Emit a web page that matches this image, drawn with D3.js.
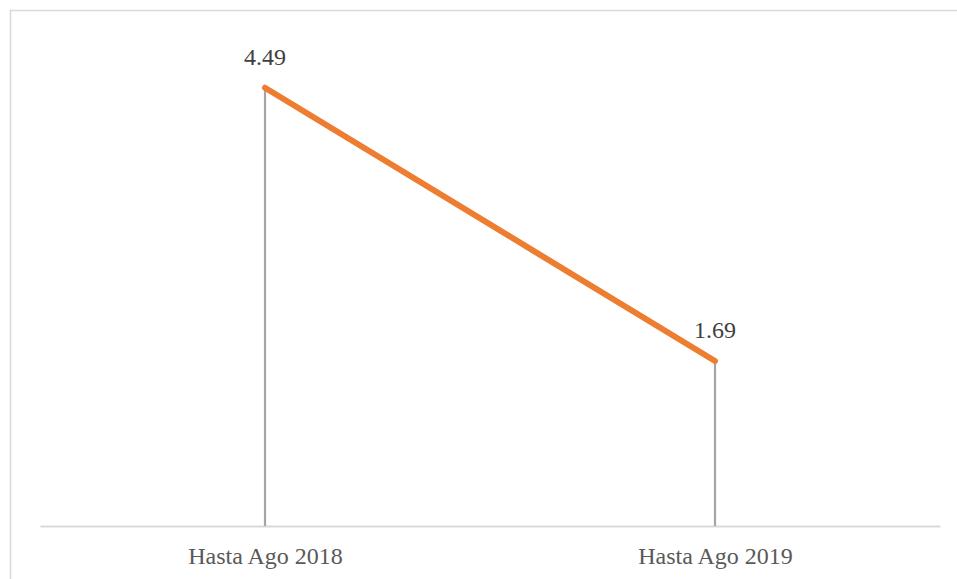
<!DOCTYPE html>
<html>
<head>
<meta charset="utf-8">
<script src="https://cdn.jsdelivr.net/npm/d3@7"></script>
<style>
  html, body { margin: 0; padding: 0; background: #fff; }
  svg { display: block; }
</style>
</head>
<body>
<svg id="chart" width="957" height="579"></svg>
<script>
// Periods and their values
const categories = ["Hasta Ago 2018", "Hasta Ago 2019"];
const values = [4.49, 1.69];
const valueLabels = ["4.49", "1.69"];
const yDomain = [0, 5];

const W = 957, H = 579;
const margin = { left: 40, right: 17, top: 38, bottom: 53 };

const svg = d3.select("#chart");

// Outer chart frame (right and bottom edges fall outside the canvas)
svg.append("rect")
  .attr("x", 10.5).attr("y", 10.5)
  .attr("width", 1200).attr("height", 1200)
  .attr("fill", "none")
  .attr("stroke", "#d9d9d9")
  .attr("stroke-width", 1.5);

const x = d3.scalePoint()
  .domain(categories)
  .range([margin.left, W - margin.right])
  .padding(0.5);

const y = d3.scaleLinear()
  .domain(yDomain)
  .range([H - margin.bottom, margin.top]);

const data = categories.map((c, i) => ({ cat: c, v: values[i], label: valueLabels[i] }));

// Category axis along the baseline
const xAxis = svg.append("g")
  .attr("transform", `translate(0,${y(0)})`)
  .call(d3.axisBottom(x).tickSize(0).tickSizeOuter(0));
xAxis.select(".domain")
  .attr("stroke", "#d9d9d9")
  .attr("stroke-width", 2);
xAxis.selectAll(".tick text")
  .attr("y", 38)
  .attr("dy", 0)
  .attr("fill", "#595959")
  .style("font-family", "'Liberation Serif', 'Times New Roman', serif")
  .style("font-size", "24px");

// Drop lines from each point to the baseline
svg.append("g")
  .selectAll("line")
  .data(data)
  .join("line")
  .attr("x1", d => x(d.cat)).attr("x2", d => x(d.cat))
  .attr("y1", d => y(d.v)).attr("y2", y(0))
  .attr("stroke", "#a5a5a5")
  .attr("stroke-width", 2.2);

// Series line
svg.append("path")
  .datum(data)
  .attr("fill", "none")
  .attr("stroke", "#ed7d31")
  .attr("stroke-width", 6)
  .attr("stroke-linecap", "round")
  .attr("stroke-linejoin", "round")
  .attr("d", d3.line().x(d => x(d.cat)).y(d => y(d.v)));

// Value labels above the points
svg.append("g")
  .selectAll("text")
  .data(data)
  .join("text")
  .attr("x", d => x(d.cat))
  .attr("y", d => y(d.v) - 23)
  .attr("text-anchor", "middle")
  .attr("fill", "#404040")
  .style("font-family", "'Liberation Serif', 'Times New Roman', serif")
  .style("font-size", "24px")
  .text(d => d.label);
</script>
</body>
</html>
